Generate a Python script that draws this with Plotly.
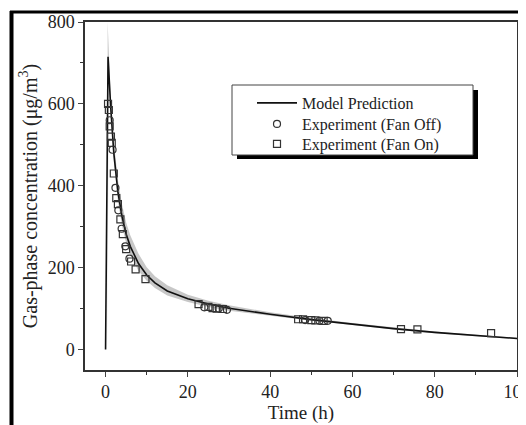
import plotly.graph_objects as go

# Model prediction (time h, concentration ug/m3)
model_t = [0, 0.6, 1.2, 2, 3, 4, 5, 6, 8, 10, 12, 15, 20, 25, 30, 40, 50, 60, 70, 80, 90, 100]
model_c = [0, 715, 600, 480, 385, 325, 282, 252, 210, 182, 163, 143, 124, 111, 101, 86, 73, 62, 51, 42, 34, 27]
band_t = [0.5, 0.7, 1.2, 2, 3, 4, 5, 6, 8, 10, 12, 15, 20, 25, 30, 40, 50, 60, 70, 80, 90, 100]
band_hi = [800, 740, 628, 508, 414, 354, 310, 279, 234, 201, 179, 157, 134, 119, 108, 91, 77, 65, 54, 44, 36, 29]
band_lo = [0, 690, 580, 458, 362, 302, 260, 232, 192, 168, 150, 132, 116, 104, 95, 82, 70, 60, 49, 40, 32, 25]

# Experiment (Fan Off) - circles
off_t = [1.0, 1.7, 2.4, 3.1, 3.9, 4.8, 5.8, 24.0, 27.5, 29.5, 48.5, 52.0, 54.0]
off_c = [560, 488, 395, 340, 295, 252, 222, 103, 100, 97, 72, 70, 70]

# Experiment (Fan On) - squares
on_t = [0.6, 0.8, 1.0, 1.3, 1.5, 2.0, 2.6, 3.0, 3.6, 4.2, 5.0, 6.2, 7.3, 9.7, 22.6, 25.0, 26.0, 27.0, 28.5, 46.8, 48.0, 50.0, 51.0, 53.0, 71.8, 75.8, 93.7]
on_c = [600, 585, 545, 520, 505, 430, 370, 355, 318, 282, 245, 215, 196, 172, 111, 104, 101, 100, 99, 74, 74, 72, 71, 70, 50, 49, 40]

x_ticks = [0, 20, 40, 60, 80, 100]
y_ticks = [0, 200, 400, 600, 800]

font = "Liberation Serif, Times New Roman, serif"

fig = go.Figure()
fig.add_trace(go.Scatter(x=band_t, y=band_lo, mode="lines", line=dict(width=0, color="rgba(0,0,0,0)"),
                         showlegend=False, hoverinfo="skip"))
fig.add_trace(go.Scatter(x=band_t, y=band_hi, mode="lines", line=dict(width=0, color="rgba(0,0,0,0)"),
                         fill="tonexty", fillcolor="rgba(185,185,185,0.8)", showlegend=False, hoverinfo="skip"))
fig.add_trace(go.Scatter(x=model_t, y=model_c, mode="lines", name="Model Prediction", legend="legend",
                         line=dict(color="#111111", width=1.6)))
fig.add_trace(go.Scatter(x=off_t, y=off_c, mode="markers", name="Experiment (Fan Off)", legend="legend2",
                         marker=dict(symbol="circle-open", size=7, color="#333333", line=dict(width=1.2))))
fig.add_trace(go.Scatter(x=on_t, y=on_c, mode="markers", name="Experiment (Fan On)", legend="legend3",
                         marker=dict(symbol="square-open", size=7, color="#333333", line=dict(width=1.2))))

# page body has an 8px margin: figure coordinates = screen coordinates - 8
OFF = 8
W, H = 526 - OFF, 425 - OFF
L, T = 85 - OFF, 22 - OFF
R = W - (517 - OFF)
B = H - (370 - OFF)
pw, ph = W - L - R, H - T - B

def px(x):
    return (x - OFF - L) / pw

def py(y):
    return (H - B - (y - OFF)) / ph

shapes = [
    # outer frame (top and left black lines)
    dict(type="line", xref="paper", yref="paper", x0=px(10), x1=px(530), y0=py(12), y1=py(12),
         line=dict(color="black", width=3)),
    dict(type="line", xref="paper", yref="paper", x0=px(11.5), x1=px(11.5), y0=py(11), y1=py(430),
         line=dict(color="black", width=4)),
    # legend shadow and box
    dict(type="rect", xref="paper", yref="paper", x0=px(237), x1=px(478), y0=py(159), y1=py(90),
         fillcolor="black", line=dict(width=0), layer="below"),
    dict(type="rect", xref="paper", yref="paper", x0=px(232), x1=px(473), y0=py(155), y1=py(85),
         fillcolor="white", line=dict(color="#444444", width=1), layer="below"),
]

leg_common = dict(xanchor="left", yanchor="top", bgcolor="rgba(0,0,0,0)", borderwidth=0,
                  font=dict(family=font, size=16, color="#222222"), itemwidth=40)

fig.update_layout(
    width=W, height=H,
    margin=dict(l=L, r=R, t=T, b=B, autoexpand=False),
    paper_bgcolor="white", plot_bgcolor="white",
    font=dict(family=font, size=18, color="#222222"),
    showlegend=True,
    legend=dict(x=px(252), y=py(86), **leg_common),
    legend2=dict(x=px(252), y=py(107), **leg_common),
    legend3=dict(x=px(252), y=py(127), **leg_common),
    shapes=shapes,
    xaxis=dict(range=[-5, 100], tickvals=x_ticks, ticks="outside", ticklen=5, automargin=False,
               ticklabeloverflow="allow",
               showline=True, linecolor="#333333", linewidth=1.5, mirror=True,
               showgrid=False, zeroline=False,
               minor=dict(tickvals=[10, 30, 50, 70, 90], ticks="outside", ticklen=3, tickcolor="#333333"),
               title=dict(text="Time (h)", font=dict(family=font, size=19), standoff=0)),
    yaxis=dict(range=[-50, 800], tickvals=y_ticks, ticks="outside", ticklen=5, automargin=False,
               showline=True, linecolor="#333333", linewidth=1.5, mirror=True,
               showgrid=False, zeroline=False,
               minor=dict(tickvals=[100, 300, 500, 700], ticks="outside", ticklen=3, tickcolor="#333333"),
               title=dict(text="Gas-phase concentration (μg/m<sup>3</sup>)", font=dict(family=font, size=20), standoff=5)),
)

fig.write_html("out.html")
